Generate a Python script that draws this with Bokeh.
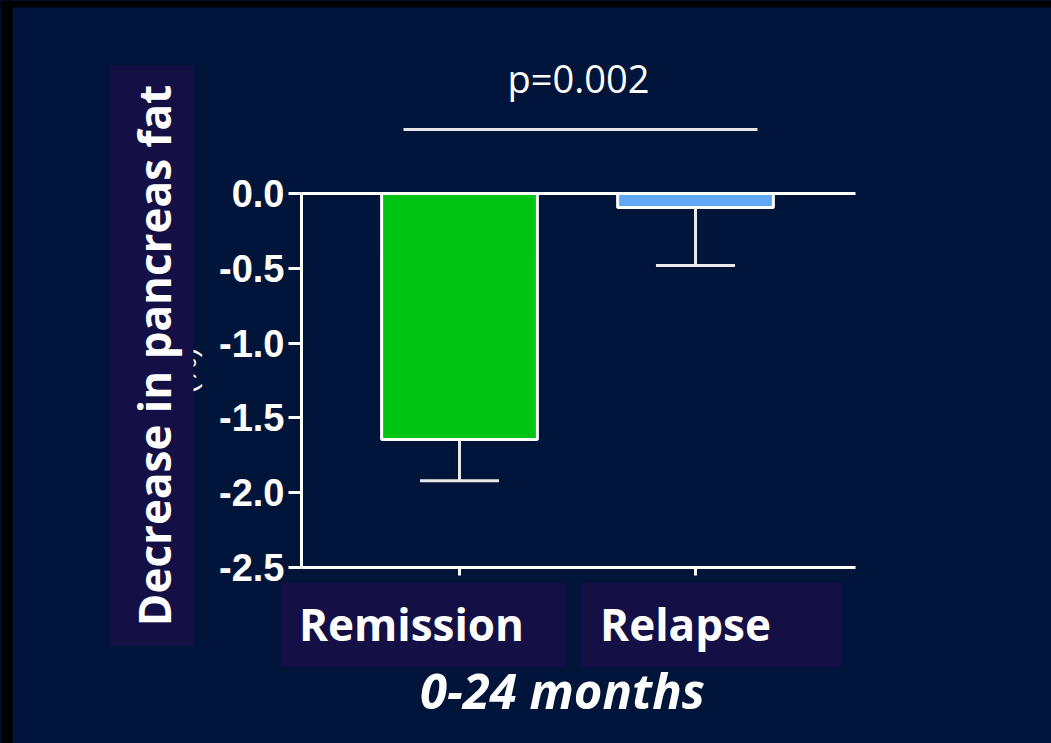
from math import pi
from bokeh.plotting import figure
from bokeh.models import (Range1d, FixedTicker, PrintfTickFormatter, Label,
                          GlobalInlineStyleSheet)
from bokeh.core.properties import value
from bokeh.embed import file_html
from bokeh.resources import INLINE

# ---------------- data ----------------
categories = ["Remission", "Relapse"]
means = [-1.645, -0.094]
errors = [0.275, 0.387]
bar_colors = ["#00c414", "#60a8f6"]
y_ticks = [0.0, -0.5, -1.0, -1.5, -2.0, -2.5]
y_title = "Decrease in pancreas fat"
x_title = "0-24 months"
p_text = "p=0.002"
unit_hint = "(%)"

# ---------------- style / layout ----------------
BG = "#001539"
BOX = "#140f45"
WHITE = "#ffffff"
W, H = 1051, 743

# page-pixel -> data helpers (layout only)
XPX = 236.0            # px per category step
X0 = 459.0             # pixel of first category
YPX = 149.6            # px per unit on y
Y0 = 193.0             # pixel of y = 0


def dx(X):
    return (X - X0) / XPX


def dy(Y):
    return (Y0 - Y) / YPX


xs = list(range(len(categories)))
lows = [m - e for m, e in zip(means, errors)]
cap = 0.1675

p = figure(width=W, height=H,
           x_range=Range1d(dx(0), dx(W)),
           y_range=Range1d(dy(H), dy(0)),
           output_backend="svg", toolbar_location=None,
           min_border=0,
           background_fill_color=BG, border_fill_color=BG,
           outline_line_color=None)
p.grid.visible = False
p.stylesheets = [GlobalInlineStyleSheet(css="html,body{background:#001539;}")]

# black frame strips of the original slide
p.quad(left=[dx(0), dx(0)], right=[dx(W), dx(12)], top=[dy(0), dy(0)],
       bottom=[dy(7), dy(H)], fill_color="#000000", line_color=None)

# y axis (drawn at the plot-area edge)
ya = p.yaxis[0]
ya.fixed_location = dx(301)
ya.bounds = (-2.5, 0)
ya.ticker = FixedTicker(ticks=y_ticks)
ya.formatter = PrintfTickFormatter(format="%.1f")
ya.axis_line_color = WHITE
ya.axis_line_width = 3
ya.major_tick_line_color = WHITE
ya.major_tick_line_width = 3
ya.major_tick_out = 13
ya.major_tick_in = 0
ya.minor_tick_line_color = None
ya.major_label_text_color = WHITE
ya.major_label_text_font = "Liberation Sans"
ya.major_label_text_font_style = "bold"
ya.major_label_text_font_size = "38px"
ya.major_label_standoff = 4

# x axis
xa = p.xaxis[0]
xa.fixed_location = -2.5
xa.bounds = (dx(301), dx(855))
xa.ticker = FixedTicker(ticks=xs)
xa.major_label_overrides = {i: "" for i in xs}
xa.axis_line_color = WHITE
xa.axis_line_width = 3
xa.major_tick_line_color = WHITE
xa.major_tick_line_width = 3
xa.major_tick_out = 8
xa.major_tick_in = 0
xa.minor_tick_line_color = None

# zero line
p.segment(x0=[dx(301)], y0=[0], x1=[dx(855)], y1=[0], line_color=WHITE, line_width=3)

# error bars
p.segment(x0=xs, y0=means, x1=xs, y1=lows, line_color="#e8e8e8", line_width=3)
p.segment(x0=[x - cap for x in xs], y0=lows, x1=[x + cap for x in xs], y1=lows,
          line_color="#e8e8e8", line_width=3)

# bars
p.vbar(x=xs, top=0, bottom=means, width=0.66, fill_color=bar_colors,
       line_color=WHITE, line_width=3)

# significance bracket
p.segment(x0=[dx(403)], y0=[dy(129)], x1=[dx(757)], y1=[dy(129)],
          line_color="#e6e6e6", line_width=3)
p.add_layout(Label(x=dx(578), y=dy(77), text=p_text, text_align="center",
                   text_baseline="alphabetic", text_color=WHITE,
                   text_font="Open Sans", text_font_size="38px"))

# partially hidden original unit label
p.text(x=[dx(185)], y=[dy(370)], text=[unit_hint], angle=pi / 2,
       text_align="center", text_baseline="middle", text_color=WHITE,
       text_font=value("Liberation Sans"), text_font_size="30px")

# boxes behind overlaid labels
p.quad(left=[dx(110), dx(280), dx(580)], right=[dx(193), dx(565), dx(842)],
       top=[dy(65), dy(582), dy(582)], bottom=[dy(645), dy(667), dy(667)],
       fill_color=BOX, line_color=None)

# y title
p.add_layout(Label(x=dx(153), y=dy(355), text=y_title, angle=pi / 2,
                   text_align="center", text_baseline="middle", text_color=WHITE,
                   text_font="Open Sans", text_font_style="bold",
                   text_font_size="44px"))

# category labels
for cx, name in zip([411, 685], categories):
    p.add_layout(Label(x=dx(cx), y=dy(623), text=name, text_align="center",
                       text_baseline="alphabetic", text_color=WHITE,
                       text_font="Open Sans", text_font_style="bold",
                       text_font_size="44px"))

# x title
p.add_layout(Label(x=dx(562), y=dy(689), text=x_title, text_align="center",
                   text_baseline="alphabetic", text_color=WHITE,
                   text_font="Open Sans", text_font_style="bold italic",
                   text_font_size="49px"))

open("out.html", "w").write(file_html(p, INLINE))
